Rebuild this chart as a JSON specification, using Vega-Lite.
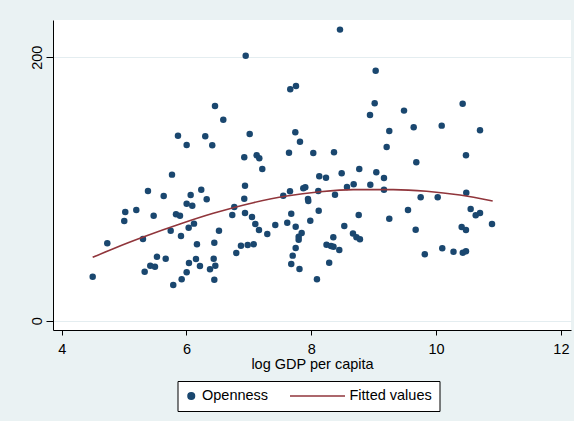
{
"$schema": "https://vega.github.io/schema/vega-lite/v6.json",
"width": 518, "height": 310,
"autosize": "none",
"padding": {"left": 53, "top": 20, "right": 3, "bottom": 91},
"background": "#EAF2F3",
"config": {"view": {"stroke": null, "fill": "#FFFFFF"}, "font": "Liberation Sans",
 "legend": {"title": null, "orient": "none", "legendX": 124.5, "legendY": 361, "direction": "horizontal",
  "fillColor": "#FFFFFF", "strokeColor": "#000000", "padding": 7.5, "columnPadding": 21, "clipHeight": 15,
  "symbolOffset": -1, "symbolStrokeWidth": 1.6, "labelFont": "Liberation Sans", "labelFontSize": 14.5,
  "labelColor": "#000000", "labelOffset": 3.5, "labelLimit": 200}},
"datasets": {
"pts": [
{"gdp":6.949,"open":201.2,"series":"Openness"},{"gdp":8.460,"open":221.0,"series":"Openness"},{"gdp":7.755,"open":178.2,"series":"Openness"},{"gdp":7.663,"open":175.7,"series":"Openness"},
{"gdp":6.457,"open":163.0,"series":"Openness"},{"gdp":6.590,"open":152.6,"series":"Openness"},{"gdp":5.864,"open":140.5,"series":"Openness"},{"gdp":6.301,"open":140.0,"series":"Openness"},
{"gdp":7.013,"open":141.8,"series":"Openness"},{"gdp":7.744,"open":143.1,"series":"Openness"},{"gdp":6.003,"open":133.4,"series":"Openness"},{"gdp":6.413,"open":133.2,"series":"Openness"},
{"gdp":6.926,"open":124.1,"series":"Openness"},{"gdp":7.125,"open":125.6,"series":"Openness"},{"gdp":7.167,"open":123.3,"series":"Openness"},{"gdp":7.643,"open":127.6,"series":"Openness"},
{"gdp":7.819,"open":135.9,"series":"Openness"},{"gdp":7.215,"open":115.2,"series":"Openness"},{"gdp":5.768,"open":110.9,"series":"Openness"},{"gdp":6.938,"open":102.5,"series":"Openness"},
{"gdp":5.383,"open":98.5,"series":"Openness"},{"gdp":5.635,"open":94.7,"series":"Openness"},{"gdp":6.067,"open":95.4,"series":"Openness"},{"gdp":6.237,"open":99.5,"series":"Openness"},
{"gdp":6.324,"open":92.2,"series":"Openness"},{"gdp":6.926,"open":92.6,"series":"Openness"},{"gdp":7.551,"open":94.9,"series":"Openness"},{"gdp":7.659,"open":98.3,"series":"Openness"},
{"gdp":9.032,"open":189.8,"series":"Openness"},{"gdp":9.016,"open":165.1,"series":"Openness"},{"gdp":10.426,"open":164.8,"series":"Openness"},{"gdp":8.941,"open":156.2,"series":"Openness"},
{"gdp":9.486,"open":159.5,"series":"Openness"},{"gdp":9.250,"open":144.0,"series":"Openness"},{"gdp":9.641,"open":146.8,"series":"Openness"},{"gdp":10.090,"open":148.1,"series":"Openness"},
{"gdp":10.704,"open":144.6,"series":"Openness"},{"gdp":8.032,"open":127.3,"series":"Openness"},{"gdp":8.364,"open":127.9,"series":"Openness"},{"gdp":9.208,"open":131.9,"series":"Openness"},
{"gdp":10.479,"open":125.6,"series":"Openness"},{"gdp":9.683,"open":120.3,"series":"Openness"},{"gdp":8.128,"open":109.6,"series":"Openness"},{"gdp":8.236,"open":108.6,"series":"Openness"},
{"gdp":8.487,"open":111.9,"series":"Openness"},{"gdp":8.769,"open":115.2,"series":"Openness"},{"gdp":9.042,"open":112.7,"series":"Openness"},{"gdp":9.165,"open":108.4,"series":"Openness"},
{"gdp":8.572,"open":101.5,"series":"Openness"},{"gdp":8.679,"open":103.6,"series":"Openness"},{"gdp":8.946,"open":103.3,"series":"Openness"},{"gdp":9.165,"open":99.5,"series":"Openness"},
{"gdp":7.872,"open":100.5,"series":"Openness"},{"gdp":7.904,"open":101.3,"series":"Openness"},{"gdp":8.112,"open":98.5,"series":"Openness"},{"gdp":8.380,"open":95.7,"series":"Openness"},
{"gdp":7.947,"open":92.4,"series":"Openness"},{"gdp":7.952,"open":90.9,"series":"Openness"},{"gdp":9.753,"open":93.7,"series":"Openness"},{"gdp":10.026,"open":93.7,"series":"Openness"},
{"gdp":10.484,"open":97.2,"series":"Openness"},{"gdp":6.003,"open":88.8,"series":"Openness"},{"gdp":6.093,"open":87.3,"series":"Openness"},{"gdp":5.019,"open":82.5,"series":"Openness"},
{"gdp":5.196,"open":84.1,"series":"Openness"},{"gdp":5.003,"open":75.7,"series":"Openness"},{"gdp":5.474,"open":79.7,"series":"Openness"},{"gdp":5.832,"open":80.8,"series":"Openness"},
{"gdp":5.896,"open":79.7,"series":"Openness"},{"gdp":6.734,"open":80.3,"series":"Openness"},{"gdp":6.766,"open":86.3,"series":"Openness"},{"gdp":6.938,"open":81.8,"series":"Openness"},
{"gdp":7.050,"open":78.7,"series":"Openness"},{"gdp":7.679,"open":81.2,"series":"Openness"},{"gdp":7.615,"open":74.4,"series":"Openness"},{"gdp":7.750,"open":71.4,"series":"Openness"},
{"gdp":7.103,"open":73.4,"series":"Openness"},{"gdp":7.162,"open":68.9,"series":"Openness"},{"gdp":7.295,"open":65.8,"series":"Openness"},{"gdp":7.423,"open":72.7,"series":"Openness"},
{"gdp":6.035,"open":70.6,"series":"Openness"},{"gdp":6.120,"open":73.7,"series":"Openness"},{"gdp":5.747,"open":68.3,"series":"Openness"},{"gdp":5.912,"open":64.3,"series":"Openness"},
{"gdp":6.521,"open":68.3,"series":"Openness"},{"gdp":4.731,"open":58.8,"series":"Openness"},{"gdp":5.303,"open":62.0,"series":"Openness"},{"gdp":6.168,"open":58.0,"series":"Openness"},
{"gdp":6.446,"open":59.2,"series":"Openness"},{"gdp":6.798,"open":51.4,"series":"Openness"},{"gdp":6.873,"open":56.9,"series":"Openness"},{"gdp":6.981,"open":57.5,"series":"Openness"},
{"gdp":7.077,"open":58.0,"series":"Openness"},{"gdp":7.846,"open":66.6,"series":"Openness"},{"gdp":7.798,"open":63.8,"series":"Openness"},{"gdp":7.798,"open":61.5,"series":"Openness"},
{"gdp":7.750,"open":55.2,"series":"Openness"},{"gdp":7.702,"open":49.4,"series":"Openness"},{"gdp":7.679,"open":43.1,"series":"Openness"},{"gdp":7.811,"open":39.3,"series":"Openness"},
{"gdp":5.527,"open":48.6,"series":"Openness"},{"gdp":5.667,"open":47.1,"series":"Openness"},{"gdp":5.420,"open":41.8,"series":"Openness"},{"gdp":5.495,"open":41.0,"series":"Openness"},
{"gdp":6.040,"open":43.8,"series":"Openness"},{"gdp":6.152,"open":46.8,"series":"Openness"},{"gdp":6.216,"open":41.5,"series":"Openness"},{"gdp":6.436,"open":47.1,"series":"Openness"},
{"gdp":6.462,"open":41.8,"series":"Openness"},{"gdp":6.377,"open":39.0,"series":"Openness"},{"gdp":5.330,"open":37.2,"series":"Openness"},{"gdp":6.003,"open":36.7,"series":"Openness"},
{"gdp":4.497,"open":33.4,"series":"Openness"},{"gdp":5.923,"open":31.4,"series":"Openness"},{"gdp":6.446,"open":31.1,"series":"Openness"},{"gdp":5.788,"open":27.1,"series":"Openness"},
{"gdp":8.119,"open":83.5,"series":"Openness"},{"gdp":7.984,"open":75.9,"series":"Openness"},{"gdp":8.760,"open":80.3,"series":"Openness"},{"gdp":8.529,"open":71.9,"series":"Openness"},
{"gdp":9.250,"open":77.4,"series":"Openness"},{"gdp":9.550,"open":84.1,"series":"Openness"},{"gdp":9.673,"open":69.1,"series":"Openness"},{"gdp":10.554,"open":84.8,"series":"Openness"},
{"gdp":10.635,"open":80.0,"series":"Openness"},{"gdp":10.704,"open":81.8,"series":"Openness"},{"gdp":10.896,"open":73.4,"series":"Openness"},{"gdp":10.410,"open":71.1,"series":"Openness"},
{"gdp":10.479,"open":68.9,"series":"Openness"},{"gdp":8.668,"open":66.2,"series":"Openness"},{"gdp":8.724,"open":63.3,"series":"Openness"},{"gdp":8.780,"open":61.8,"series":"Openness"},
{"gdp":8.353,"open":63.4,"series":"Openness"},{"gdp":8.244,"open":57.7,"series":"Openness"},{"gdp":8.316,"open":56.7,"series":"Openness"},{"gdp":8.356,"open":56.2,"series":"Openness"},
{"gdp":8.449,"open":53.7,"series":"Openness"},{"gdp":8.287,"open":44.0,"series":"Openness"},{"gdp":8.091,"open":31.4,"series":"Openness"},{"gdp":9.819,"open":50.5,"series":"Openness"},
{"gdp":10.099,"open":55.0,"series":"Openness"},{"gdp":10.279,"open":52.4,"series":"Openness"},{"gdp":10.428,"open":51.6,"series":"Openness"},{"gdp":10.479,"open":52.8,"series":"Openness"}
],
"fit": [
{"gdp":4.497,"fit":48.1,"series":"Fitted values"},{"gdp":4.827,"fit":54.7,"series":"Fitted values"},{"gdp":5.362,"fit":64.5,"series":"Fitted values"},
{"gdp":5.896,"fit":73.4,"series":"Fitted values"},{"gdp":6.429,"fit":81.5,"series":"Fitted values"},{"gdp":7.071,"fit":89.6,"series":"Fitted values"},
{"gdp":7.606,"fit":94.7,"series":"Fitted values"},{"gdp":8.139,"fit":97.9,"series":"Fitted values"},{"gdp":8.673,"fit":99.5,"series":"Fitted values"},
{"gdp":9.314,"fit":99.5,"series":"Fitted values"},{"gdp":9.849,"fit":98.3,"series":"Fitted values"},{"gdp":10.383,"fit":95.4,"series":"Fitted values"},
{"gdp":10.907,"fit":90.9,"series":"Fitted values"}
]
},
"layer": [
{
"data": {"name": "pts"},
"mark": {"type": "point", "filled": true, "opacity": 1, "strokeWidth": 0},
"encoding": {
"x": {"field": "gdp", "type": "quantitative",
 "scale": {"domain": [3.861, 12.162], "nice": false, "zero": false},
 "axis": {"values": [4, 6, 8, 10, 12], "format": "d", "title": "log GDP per capita", "grid": false,
  "domainColor": "#000000", "domainWidth": 1, "tickColor": "#000000", "tickSize": 5, "tickWidth": 1,
  "labelFont": "Liberation Sans", "labelFontSize": 14.5, "labelColor": "#000000", "labelBaseline": "alphabetic", "labelPadding": 18,
  "labelFlush": false, "labelOverlap": false,
  "titleFont": "Liberation Sans", "titleFontSize": 14.5, "titleFontWeight": "normal", "titleColor": "#000000",
  "titleBaseline": "alphabetic", "titleY": 38}},
"y": {"field": "open", "type": "quantitative",
 "scale": {"domain": [-7.06, 228.3], "nice": false, "zero": false},
 "axis": {"values": [0, 200], "format": "d", "title": null, "grid": true, "gridColor": "#E4EDF0", "gridWidth": 1,
  "domainColor": "#000000", "domainWidth": 1, "tickColor": "#000000", "tickSize": 7, "tickWidth": 1,
  "labelAngle": -90, "labelAlign": "center", "labelBaseline": "alphabetic", "labelPadding": 4.5,
  "labelFont": "Liberation Sans", "labelFontSize": 14.5, "labelColor": "#000000", "labelFlush": false, "labelOverlap": false}},
"color": {"field": "series", "type": "nominal",
 "scale": {"domain": ["Openness", "Fitted values"], "range": ["#1A476F", "#90353B"]},
 "legend": {"encode": {"symbols": {
     "stroke": {"value": {"expr": "datum.value === 'Openness' ? 'transparent' : '#90353B'"}},
     "fill": {"value": {"expr": "datum.value === 'Openness' ? '#1A476F' : 'transparent'"}}}}}},
"shape": {"field": "series", "type": "nominal",
 "scale": {"domain": ["Openness", "Fitted values"], "range": ["circle", "stroke"]},
 "legend": {"encode": {"symbols": {
     "stroke": {"value": {"expr": "datum.value === 'Openness' ? 'transparent' : '#90353B'"}},
     "fill": {"value": {"expr": "datum.value === 'Openness' ? '#1A476F' : 'transparent'"}}}}}},
"size": {"field": "series", "type": "ordinal",
 "scale": {"domain": ["Openness", "Fitted values"], "range": [42, 3025]},
 "legend": {"encode": {"symbols": {
     "stroke": {"value": {"expr": "datum.value === 'Openness' ? 'transparent' : '#90353B'"}},
     "fill": {"value": {"expr": "datum.value === 'Openness' ? '#1A476F' : 'transparent'"}}}}}}
}
},
{
"data": {"name": "fit"},
"mark": {"type": "line", "strokeWidth": 1.6, "interpolate": "monotone"},
"encoding": {
"x": {"field": "gdp", "type": "quantitative"},
"y": {"field": "fit", "type": "quantitative"},
"color": {"field": "series", "type": "nominal"}
}
}
]
}
